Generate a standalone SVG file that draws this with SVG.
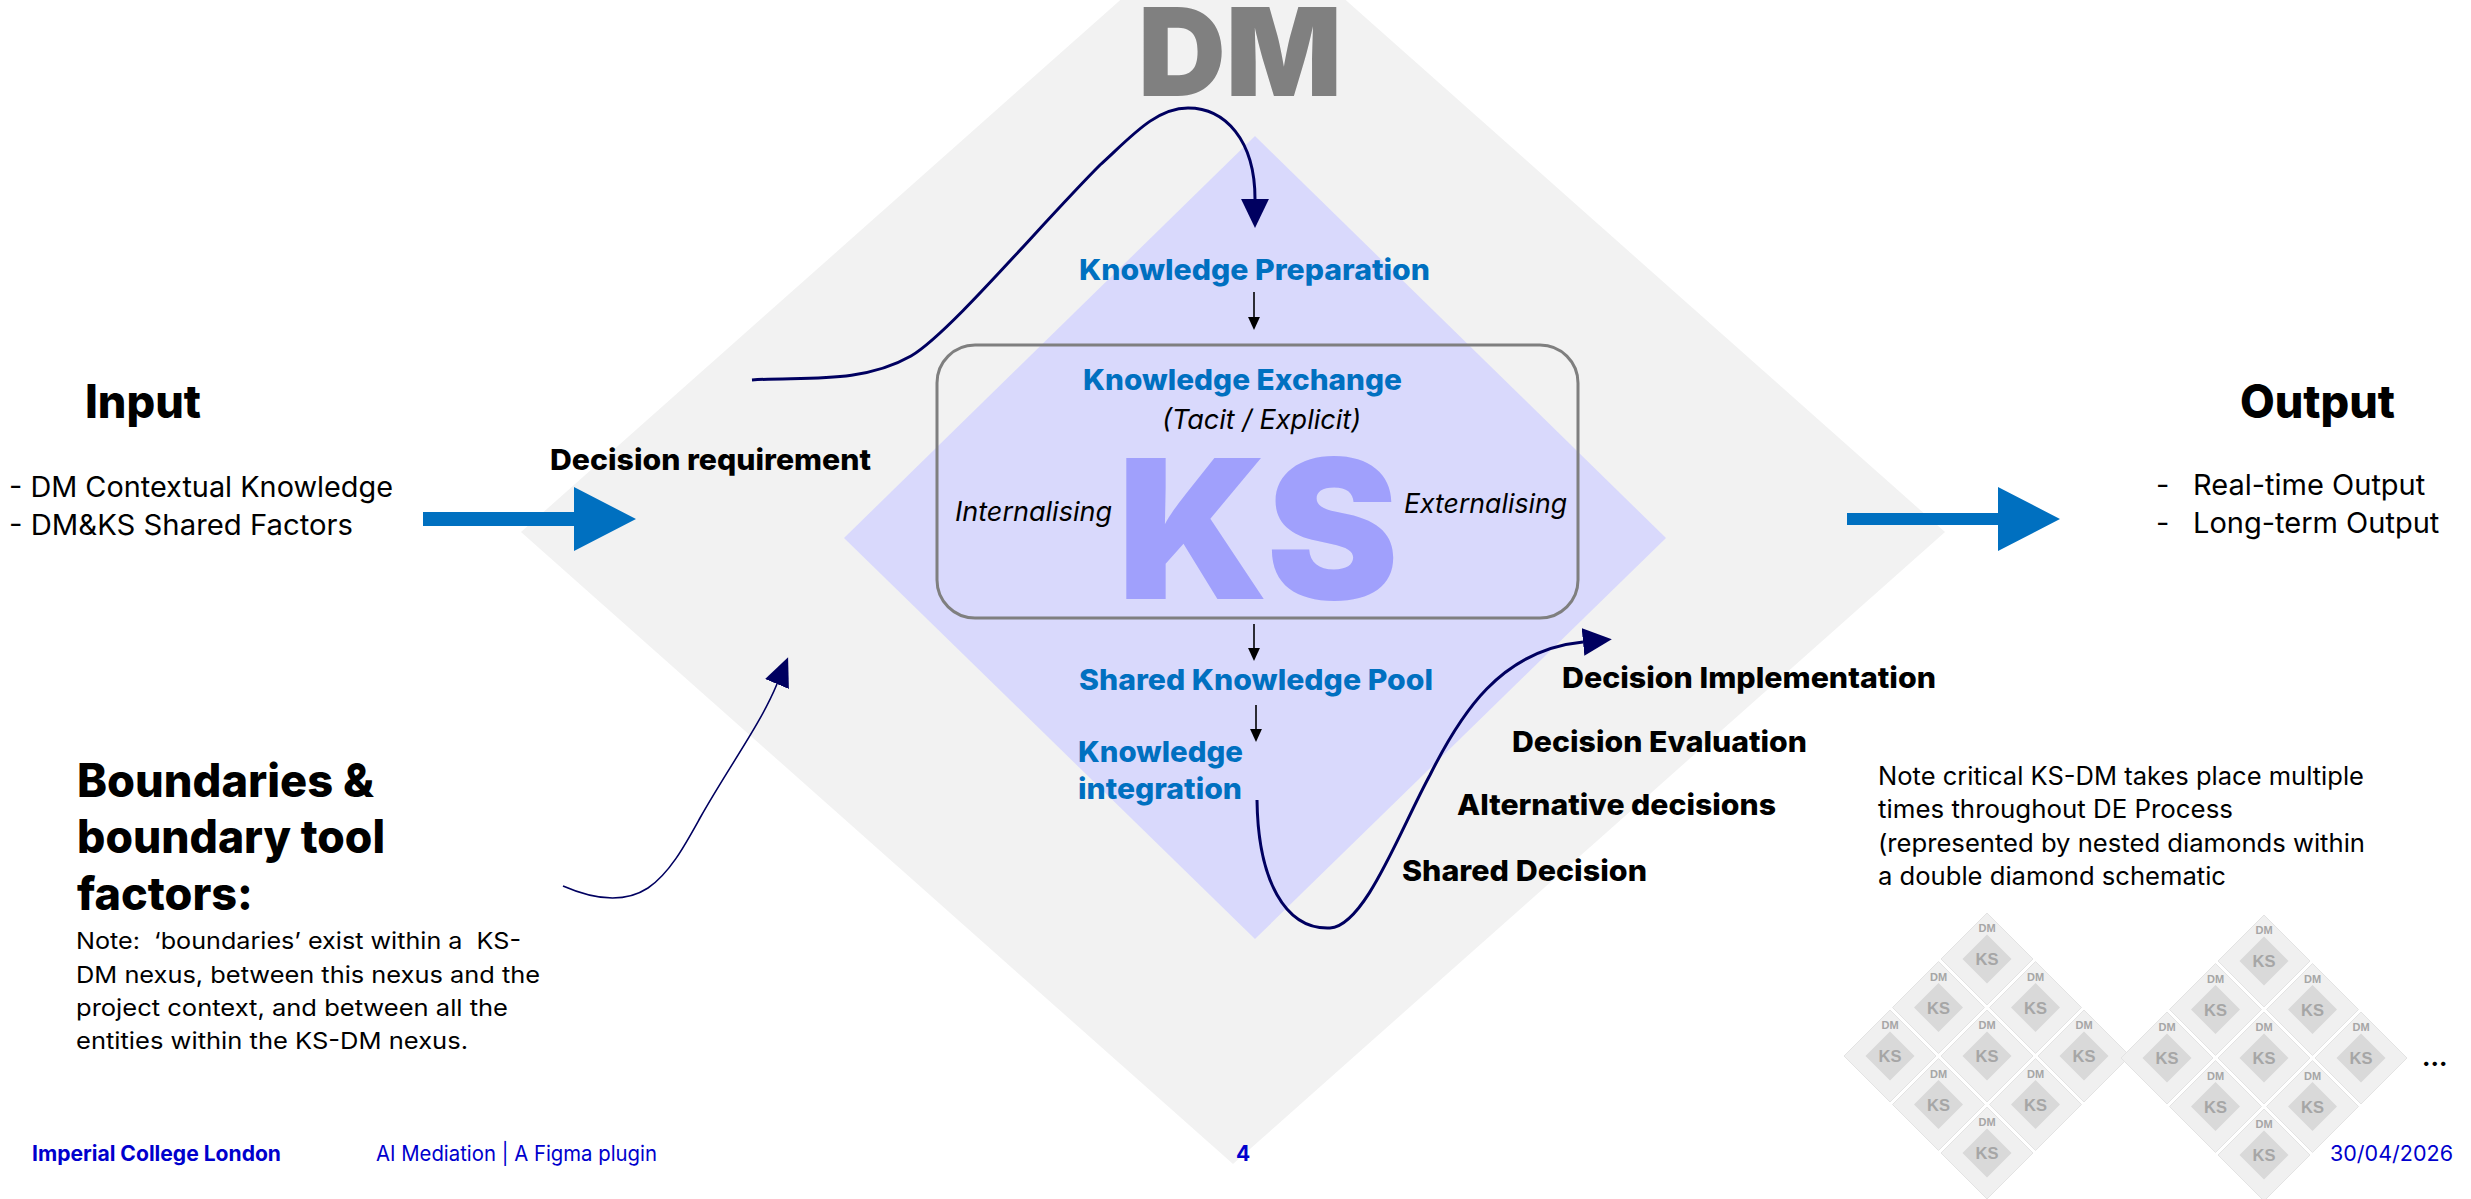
<svg xmlns="http://www.w3.org/2000/svg" xmlns:xlink="http://www.w3.org/1999/xlink" width="2471" height="1199" viewBox="0 0 2471 1199">
<style>
text{font-family:Inter,"Noto Sans","Liberation Sans",sans-serif;}
.blue{fill:#0070c0;font-weight:800;font-size:29px;}
.blk{fill:#000;font-weight:800;font-size:29px;}
.reg{fill:#000;font-weight:400;}
.it{fill:#000;font-style:italic;font-weight:400;font-size:27px;}
.head{fill:#000;font-weight:800;font-size:46px;}
.foot{fill:#0000cd;font-size:21px;}
.mini{font-family:"Liberation Sans",Arial,sans-serif;font-weight:700;fill:#a6a6a6;text-anchor:middle;}
.curve{fill:none;stroke:#000060;}
.small{stroke:#000;stroke-width:1.6;fill:none;}
</style>
<defs>
<marker id="navyHead" markerUnits="userSpaceOnUse" markerWidth="30" markerHeight="30" viewBox="0 -14 28 28" refX="0" refY="0" orient="auto">
<path d="M0,-13 L27,0 L0,13 Z" fill="#000060"/>
</marker>
<marker id="navyHeadThin" markerUnits="userSpaceOnUse" markerWidth="30" markerHeight="30" viewBox="0 -14 28 28" refX="0" refY="0" orient="auto">
<path d="M0,-12 L27,0 L0,12 Z" fill="#000060"/>
</marker>
<marker id="blackHead" markerUnits="userSpaceOnUse" markerWidth="14" markerHeight="14" viewBox="0 -6 13 12" refX="0" refY="0" orient="auto">
<path d="M0,-5.5 L12,0 L0,5.5 Z" fill="#000"/>
</marker>
<g id="cell">
<path d="M0,-46 L46,0 L0,46 L-46,0 Z" fill="#f0f0f0" stroke="#e3e3e3" stroke-width="1"/>
<path d="M0,-24.5 L24.5,0 L0,24.5 L-24.5,0 Z" fill="#d9d9d9"/>
<text class="mini" x="0" y="-27" font-size="11">DM</text>
<text class="mini" x="0" y="6" font-size="16.5">KS</text>
</g>
</defs>
<rect width="2471" height="1199" fill="#fff"/>

<g id="dm-diamond">
<path d="M1233,-100 L1945,532 L1233,1164 L521,532 Z" fill="#f2f2f2"/>
<text x="1138" y="96" font-size="123" font-weight="900" fill="#808080" textLength="204" lengthAdjust="spacingAndGlyphs">DM</text>
</g>

<g id="ks-diamond">
<path d="M1255,136 L1666,538 L1255,939 L844,538 Z" fill="#d9d9fc"/>
<text x="1117" y="599" font-size="194" font-weight="900" fill="#a0a0fc" textLength="282" lengthAdjust="spacingAndGlyphs">KS</text>
</g>

<g id="knowledge-preparation">
<text class="blue" x="1079" y="280" textLength="351" lengthAdjust="spacingAndGlyphs">Knowledge Preparation</text>
</g>

<g id="knowledge-exchange">
<rect x="937" y="345" width="641" height="273" rx="38" ry="38" fill="none" stroke="#7f7f7f" stroke-width="3"/>
<text class="blue" x="1083" y="390" textLength="319" lengthAdjust="spacingAndGlyphs">Knowledge Exchange</text>
<text class="it" x="1162" y="429" font-size="26" textLength="199" lengthAdjust="spacingAndGlyphs">(Tacit / Explicit)</text>
<text class="it" x="955" y="521" textLength="157" lengthAdjust="spacingAndGlyphs">Internalising</text>
<text class="it" x="1404" y="513" textLength="163" lengthAdjust="spacingAndGlyphs">Externalising</text>
</g>

<g id="shared-knowledge-pool">
<text class="blue" x="1079" y="690" textLength="354" lengthAdjust="spacingAndGlyphs">Shared Knowledge Pool</text>
</g>

<g id="knowledge-integration">
<text class="blue" x="1078" y="762" textLength="165" lengthAdjust="spacingAndGlyphs">Knowledge</text>
<text class="blue" x="1078" y="799" textLength="164" lengthAdjust="spacingAndGlyphs">integration</text>
</g>

<g id="decision-stages">
<text class="blk" x="1562" y="688" textLength="374" lengthAdjust="spacingAndGlyphs">Decision Implementation</text>
<text class="blk" x="1512" y="752" textLength="295" lengthAdjust="spacingAndGlyphs">Decision Evaluation</text>
<text class="blk" x="1457" y="815" textLength="319" lengthAdjust="spacingAndGlyphs">Alternative decisions</text>
<text class="blk" x="1402" y="881" textLength="245" lengthAdjust="spacingAndGlyphs">Shared Decision</text>
</g>

<g id="decision-requirement">
<text class="blk" x="550" y="470" font-size="30" textLength="321" lengthAdjust="spacingAndGlyphs">Decision requirement</text>
</g>

<g id="input">
<text class="head" x="85" y="418" font-size="45" textLength="116" lengthAdjust="spacingAndGlyphs">Input</text>
<text class="reg" x="9" y="497" font-size="28.5" textLength="384" lengthAdjust="spacingAndGlyphs">- DM Contextual Knowledge</text>
<text class="reg" x="9" y="535" font-size="28.5" textLength="344" lengthAdjust="spacingAndGlyphs">- DM&amp;KS Shared Factors</text>
</g>

<g id="output">
<text class="head" x="2240" y="418" font-size="45" textLength="155" lengthAdjust="spacingAndGlyphs">Output</text>
<text class="reg" y="495" font-size="29"><tspan x="2156">-</tspan><tspan x="2193">Real-time Output</tspan></text>
<text class="reg" y="533" font-size="29"><tspan x="2156">-</tspan><tspan x="2193">Long-term Output</tspan></text>
</g>

<g id="boundaries">
<text class="head" x="77" y="797" textLength="297" lengthAdjust="spacingAndGlyphs">Boundaries &amp;</text>
<text class="head" x="77" y="853" textLength="308" lengthAdjust="spacingAndGlyphs">boundary tool</text>
<text class="head" x="77" y="910" textLength="176" lengthAdjust="spacingAndGlyphs">factors:</text>
<text class="reg" x="76" y="949" font-size="23.5" textLength="445" lengthAdjust="spacingAndGlyphs" xml:space="preserve">Note:  ‘boundaries’ exist within a  KS-</text>
<text class="reg" x="76" y="983" font-size="23.5" textLength="464" lengthAdjust="spacingAndGlyphs">DM nexus, between this nexus and the</text>
<text class="reg" x="76" y="1016" font-size="23.5" textLength="432" lengthAdjust="spacingAndGlyphs">project context, and between all the</text>
<text class="reg" x="76" y="1049" font-size="23.5" textLength="392" lengthAdjust="spacingAndGlyphs">entities within the KS-DM nexus.</text>
</g>

<g id="note-critical">
<text class="reg" x="1878" y="785" font-size="25" textLength="486" lengthAdjust="spacingAndGlyphs">Note critical KS-DM takes place multiple</text>
<text class="reg" x="1878" y="818" font-size="25" textLength="355" lengthAdjust="spacingAndGlyphs">times throughout DE Process</text>
<text class="reg" x="1878" y="852" font-size="25" textLength="487" lengthAdjust="spacingAndGlyphs">(represented by nested diamonds within</text>
<text class="reg" x="1878" y="885" font-size="25" textLength="348" lengthAdjust="spacingAndGlyphs">a double diamond schematic</text>
</g>

<g id="double-diamond-1">
<use href="#cell" x="1987" y="959"/>
<use href="#cell" x="1938.5" y="1007.5"/>
<use href="#cell" x="2035.5" y="1007.5"/>
<use href="#cell" x="1890" y="1056"/>
<use href="#cell" x="1987" y="1056"/>
<use href="#cell" x="2084" y="1056"/>
<use href="#cell" x="1938.5" y="1104.5"/>
<use href="#cell" x="2035.5" y="1104.5"/>
<use href="#cell" x="1987" y="1153"/>
</g>
<g id="double-diamond-2">
<use href="#cell" x="2264" y="961"/>
<use href="#cell" x="2215.5" y="1009.5"/>
<use href="#cell" x="2312.5" y="1009.5"/>
<use href="#cell" x="2167" y="1058"/>
<use href="#cell" x="2264" y="1058"/>
<use href="#cell" x="2361" y="1058"/>
<use href="#cell" x="2215.5" y="1106.5"/>
<use href="#cell" x="2312.5" y="1106.5"/>
<use href="#cell" x="2264" y="1155"/>
</g>
<g id="ellipsis">
<text x="2422" y="1066" font-size="24" font-weight="800" fill="#000">...</text>
</g>

<g id="connectors">
<path d="M423,512 H574 V487 L636,519 L574,551 V526 H423 Z" fill="#0070c0"/>
<path d="M1847,513 H1998 V487 L2060,519 L1998,551 V525 H1847 Z" fill="#0070c0"/>
<path class="small" d="M1254,292 V317" marker-end="url(#blackHead)"/>
<path class="small" d="M1254,624 V648" marker-end="url(#blackHead)"/>
<path class="small" d="M1256,705 V729" marker-end="url(#blackHead)"/>
<path class="curve" stroke-width="3" d="M752,380 C800,376 860,385 911,356 C950,333 1040,225 1100,165 C1130,138 1155,108 1188,108 C1225,108 1255,140 1255,199" marker-end="url(#navyHead)"/>
<path class="curve" stroke-width="1.6" d="M563,886 C595,900 625,903 648,888 C670,873 685,845 700,818 C730,765 760,725 777,684" marker-end="url(#navyHeadThin)"/>
<path class="curve" stroke-width="3" d="M1257,800 C1258,880 1285,930 1330,928 C1365,926 1400,830 1430,775 C1460,715 1500,650 1583,642" marker-end="url(#navyHead)"/>
</g>

<g id="footer">
<text class="foot" x="32" y="1161" font-weight="700" textLength="249" lengthAdjust="spacingAndGlyphs">Imperial College London</text>
<text class="foot" x="376" y="1161" font-weight="400" textLength="281" lengthAdjust="spacingAndGlyphs">AI Mediation | A Figma plugin</text>
<text class="foot" x="1236" y="1161" font-weight="700">4</text>
<text class="foot" x="2330" y="1161" font-weight="400" textLength="123" lengthAdjust="spacingAndGlyphs">30/04/2026</text>
</g>
</svg>
